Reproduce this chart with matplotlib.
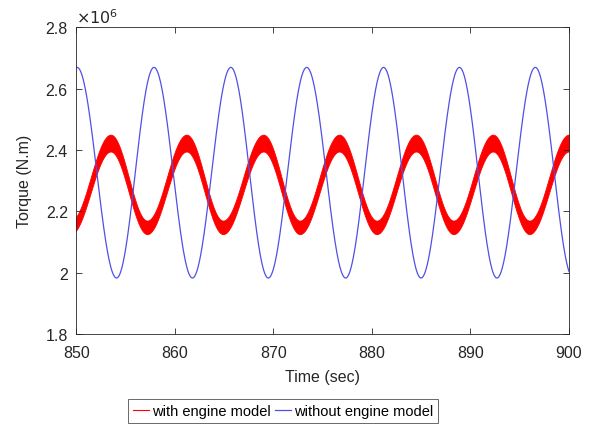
#!/usr/bin/env python3
"""Torque with / without engine model, 850-900 s window."""

import matplotlib
matplotlib.use("Agg")
import matplotlib.pyplot as plt
import numpy as np

# turning points (time in sec, torque in 1e6 N.m)
blue_t = [846.2, 850.1, 854.1, 857.9, 861.8, 865.7, 869.5, 873.4, 877.35,
          881.2, 885.0, 888.9, 892.7, 896.6, 900.45]
blue_v = [1.983, 2.669, 1.983, 2.669, 1.983, 2.669, 1.983, 2.669, 1.983,
          2.669, 1.983, 2.669, 1.983, 2.669, 1.983]

red_t = [849.45, 853.5, 857.2, 861.2, 864.9, 869.0, 872.7, 876.7, 880.5,
         884.5, 888.3, 892.3, 896.0, 900.0]
red_hi = [2.170, 2.450, 2.170, 2.450, 2.170, 2.450, 2.170, 2.450, 2.170,
          2.450, 2.170, 2.450, 2.170, 2.450]
red_lo = [2.126, 2.395, 2.126, 2.395, 2.126, 2.395, 2.126, 2.395, 2.126,
          2.395, 2.126, 2.395, 2.126, 2.395]

yticks = [1.8, 2.0, 2.2, 2.4, 2.6, 2.8]
ytick_labels = ["1.8", "2", "2.2", "2.4", "2.6", "2.8"]
xticks = [850, 860, 870, 880, 890, 900]


def swing(t, v, n=80):
    # join turning points with half-cosine strokes
    xs, ys = [], []
    for i in range(len(t) - 1):
        s = np.linspace(0, 1, n, endpoint=False)
        xs.append(t[i] + (t[i + 1] - t[i]) * s)
        ys.append(v[i] + (v[i + 1] - v[i]) * (1 - np.cos(np.pi * s)) / 2)
    xs.append([t[-1]])
    ys.append([v[-1]])
    return np.concatenate(xs), np.concatenate(ys)


plt.rcParams["font.family"] = ["Liberation Sans", "DejaVu Sans"]

fig = plt.figure(figsize=(5.95, 4.27), dpi=100)
ax = fig.add_axes([0.128, 0.215, 0.828, 0.719])

rx, rhi = swing(red_t, red_hi)
_, rlo = swing(red_t, red_lo)
ax.fill_between(rx, rlo, rhi, color="#ff0000", lw=0.6, edgecolor="#ff0000")
red_line, = ax.plot([], [], color="#ff0000", lw=0.8)

bx, by = swing(blue_t, blue_v)
blue_line, = ax.plot(bx, by, color="#5050e6", lw=0.9)

ax.set_xlim(850, 900)
ax.set_ylim(1.8, 2.8)
ax.set_xticks(xticks)
ax.set_yticks(yticks)
ax.set_yticklabels(ytick_labels)
ax.tick_params(direction="in", top=True, right=True, length=4, width=0.6,
               colors="#262626", labelsize=11.5)
ax.tick_params(axis="x", pad=8)
ax.tick_params(axis="y", pad=6)
for sp in ax.spines.values():
    sp.set_color("#262626")
    sp.set_linewidth(0.6)

ax.set_xlabel("Time (sec)", fontsize=11.5, labelpad=6, color="#262626")
ax.set_ylabel("Torque (N.m)", fontsize=11.5, labelpad=10, color="#262626")
ax.text(0.0, 1.005, r"$\times10^{6}$", transform=ax.transAxes, fontsize=11.5,
        ha="left", va="bottom", color="#262626")

leg = fig.legend([red_line, blue_line], ["with engine model", "without engine model"],
                 loc="center", bbox_to_anchor=(0.476, 0.035), ncol=2, fontsize=10.5,
                 frameon=True, fancybox=False, handlelength=1.1, handletextpad=0.2,
                 columnspacing=0.3, borderpad=0.35, borderaxespad=0)
leg.get_frame().set_edgecolor("#262626")
leg.get_frame().set_linewidth(0.6)

fig.savefig("out.png", dpi=100)
